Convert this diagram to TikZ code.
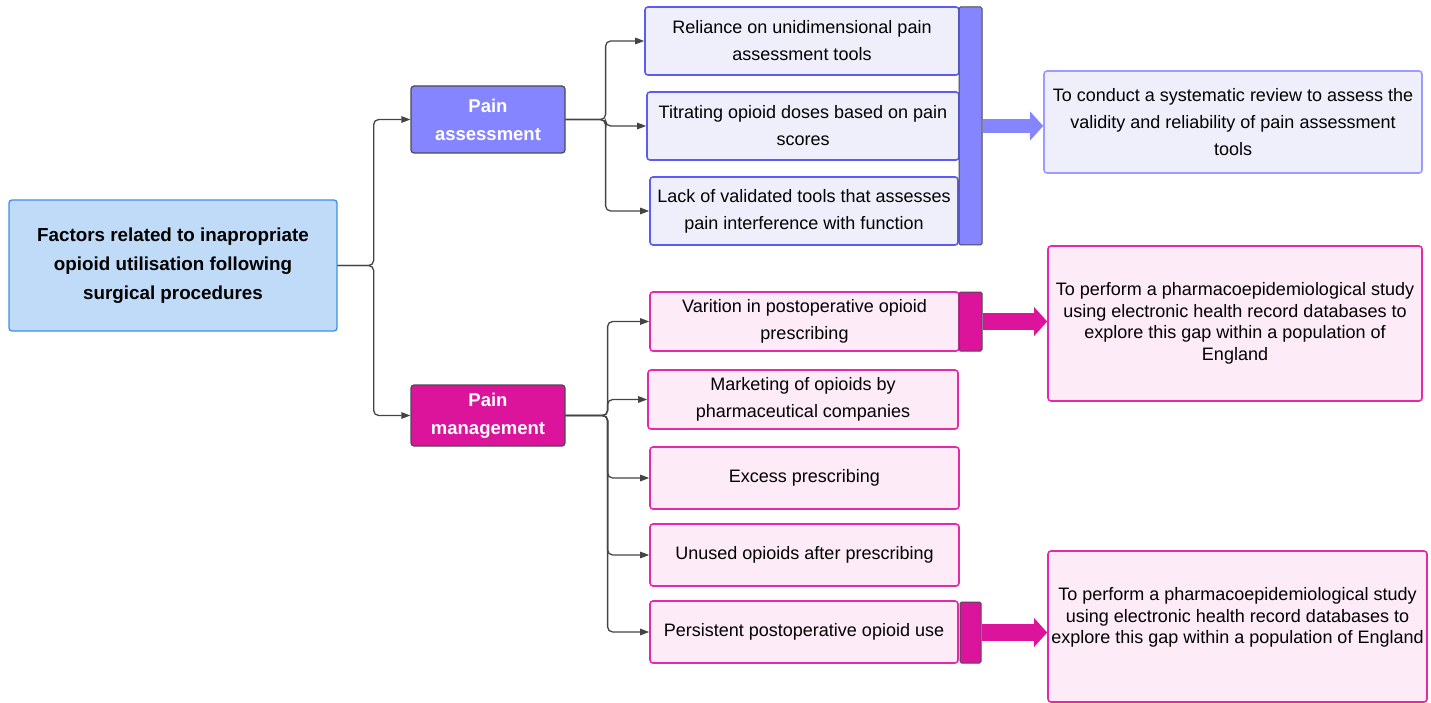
\documentclass[tikz,border=0pt]{standalone}
\usepackage{fontspec}
\setmainfont{Liberation Sans}
\usetikzlibrary{arrows.meta,calc}

\definecolor{rootfill}{HTML}{BFDBF7}
\definecolor{rootline}{HTML}{3F8FE2}
\definecolor{peri}{HTML}{8585FF}
\definecolor{lavfill}{HTML}{EFEFFC}
\definecolor{lavline}{HTML}{5C5CF5}
\definecolor{lavlight}{HTML}{9C9CFF}
\definecolor{mag}{HTML}{DC149C}
\definecolor{pinkfill}{HTML}{FDEBF7}
\definecolor{pinkline}{HTML}{E42AAB}
\definecolor{darkline}{HTML}{4A4A55}
\definecolor{conncol}{HTML}{444444}

\begin{document}
\begin{tikzpicture}[x=1pt,y=-1pt,
  box/.style={rounded corners=3pt, line width=1.6pt, align=center, inner sep=0pt},
  txt/.style={font=\fontsize{18pt}{27pt}\selectfont},
  objtxt/.style={font=\fontsize{18pt}{21.6pt}\selectfont},
  root/.style={box, fill=rootfill, draw=rootline, line width=1.3pt,
    font=\bfseries\fontsize{18.8pt}{29pt}\selectfont},
  cat/.style={box, draw=darkline, line width=1.2pt, text=white,
    font=\bfseries\fontsize{18.5pt}{28pt}\selectfont, minimum width=154pt},
  abox/.style={box, txt, fill=lavfill, draw=lavline, minimum height=68pt},
  mbox/.style={box, txt, fill=pinkfill, draw=pinkline},
  bar/.style={rounded corners=1.5pt, draw=darkline, line width=1pt, inner sep=0pt},
  conn/.style={draw=conncol, line width=1.3pt, rounded corners=5pt,
    -{Triangle[length=9pt,width=6.5pt]}},
  block/.style={-{Triangle[length=13pt,width=28pt]}}
]
\useasboundingbox (0,0) rectangle (1431,703);

% root and the two categories
\node[root, minimum width=328pt, minimum height=131pt] (root) at (173,265.5)
  {Factors related to inapropriate\\opioid utilisation following\\surgical procedures};
\node[cat, fill=peri, minimum height=67pt] (pa) at (488,119.5) {Pain\\assessment};
\node[cat, fill=mag, minimum height=61pt] (pm) at (488,415.5) {Pain\\management};

% pain assessment factors
\node[abox, minimum width=314pt] (a1) at (802,41) {Reliance on unidimensional pain\\assessment tools};
\node[abox, minimum width=312pt] (a2) at (803,126) {Titrating opioid doses based on pain\\scores};
\node[abox, minimum width=308pt] (a3) at (804,211) {Lack of validated tools that assesses\\pain interference with function};
\node[bar, fill=peri, minimum width=23pt, minimum height=238pt] (bar1) at (970.5,126) {};

% pain management factors
\node[mbox, minimum width=309pt, minimum height=59pt] (m1) at (804.5,321.5) {Varition in postoperative opioid\\prescribing};
\node[mbox, minimum width=310pt, minimum height=59pt] (m2) at (803,399.5) {Marketing of opioids by\\pharmaceutical companies};
\node[mbox, minimum width=309pt, minimum height=62pt] (m3) at (804.5,478) {Excess prescribing};
\node[mbox, minimum width=309pt, minimum height=62pt] (m4) at (804.5,555) {Unused opioids after prescribing};
\node[mbox, minimum width=308pt, minimum height=62pt] (m5) at (804,632) {Persistent postoperative opioid use};
\node[bar, fill=mag, minimum width=23pt, minimum height=59pt] (bar2) at (970.5,321.5) {};
\node[bar, fill=mag, minimum width=21pt, minimum height=61pt] (bar3) at (970.5,632.5) {};

% objectives
\node[box, txt, fill=lavfill, draw=lavlight, minimum width=378pt, minimum height=102pt] (o1) at (1233,122)
  {To conduct a systematic review to assess the\\validity and reliability of pain assessment\\tools};
\node[box, objtxt, fill=pinkfill, draw=pinkline, minimum width=374pt, minimum height=155pt] (o2) at (1235,323.5)
  {To perform a pharmacoepidemiological study\\using electronic health record databases to\\explore this gap within a population of\\England};
\node[box, objtxt, fill=pinkfill, draw=pinkline, minimum width=379pt, minimum height=151pt] (o3) at (1237.5,626.5)
  {To perform a pharmacoepidemiological study\\using electronic health record databases to\\explore this gap within a population of England\\\mbox{}};

% tree connectors
\coordinate (j0) at ($(root.east)+(36,0)$);
\draw[conn] (root.east) -- (j0) |- (pa.west);
\draw[conn] (root.east) -- (j0) |- (pm.west);

\coordinate (j1) at ($(pa.east)+(40,0)$);
\foreach \t in {a1,a2,a3} \draw[conn] (pa.east) -- (j1) |- (\t.west);

\coordinate (j2) at ($(pm.east)+(42,0)$);
\foreach \t in {m1,m2,m3,m4,m5} \draw[conn] (pm.east) -- (j2) |- (\t.west);

% block arrows to the objectives
\draw[block, draw=peri, fill=peri, line width=14pt] (bar1.east) -- (o1.west |- bar1.east);
\draw[block, draw=mag, fill=mag, line width=17pt] (bar2.east) -- (o2.west |- bar2.east);
\draw[block, draw=mag, fill=mag, line width=17pt] (bar3.east) -- (o3.west |- bar3.east);
\end{tikzpicture}
\end{document}
